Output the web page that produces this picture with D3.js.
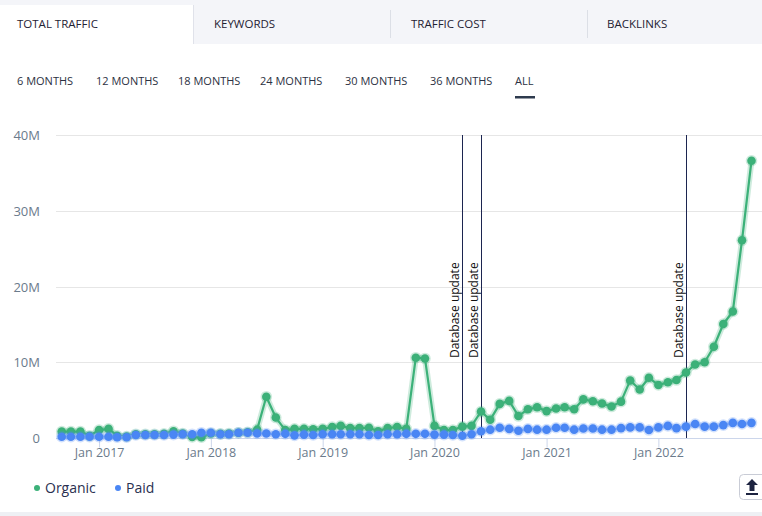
<!DOCTYPE html>
<html>
<head>
<meta charset="utf-8">
<script src="https://cdn.jsdelivr.net/npm/d3@7"></script>
<style>
  body { margin: 0; background: #fff; font-family: "Open Sans", sans-serif; }
  svg { display: block; }
</style>
</head>
<body>
<svg id="chart" width="762" height="516"></svg>
<script>
// monthly data, Sep 2016 .. Nov 2022 (millions)
const startMonth = new Date(Date.UTC(2016, 8, 1));
const organic = [0.85, 0.85, 0.85, 0.3, 1.05, 1.2, 0.3, 0.2, 0.5, 0.5, 0.5, 0.55,
  0.9, 0.6, 0.15, 0.1, 0.6, 0.55, 0.6, 0.7, 0.75, 1.1, 5.45, 2.7,
  1.05, 1.2, 1.2, 1.15, 1.2, 1.45, 1.6, 1.3, 1.3, 1.35, 0.9, 1.3,
  1.45, 1.2, 10.6, 10.5, 1.6, 1.05, 1.05, 1.5, 1.6, 3.5, 2.4, 4.5,
  4.9, 2.9, 3.8, 4.05, 3.55, 3.9, 4.05, 3.8, 5.1, 4.85, 4.55, 4.15,
  4.8, 7.6, 6.4, 7.95, 7.0, 7.35, 7.65, 8.65, 9.7, 10.0, 12.05, 15.05,
  16.7, 26.1, 36.6];
const paid = [0.17, 0.17, 0.17, 0.17, 0.17, 0.17, 0.1, 0.1, 0.4, 0.4, 0.4, 0.4,
  0.45, 0.5, 0.5, 0.7, 0.7, 0.5, 0.5, 0.7, 0.7, 0.6, 0.6, 0.5,
  0.55, 0.35, 0.45, 0.4, 0.5, 0.5, 0.5, 0.5, 0.5, 0.4, 0.4, 0.5,
  0.5, 0.55, 0.55, 0.55, 0.45, 0.45, 0.4, 0.3, 0.5, 0.9, 1.1, 1.35,
  1.2, 0.95, 1.2, 1.1, 1.1, 1.35, 1.35, 1.1, 1.25, 1.25, 1.1, 1.1,
  1.3, 1.4, 1.4, 1.05, 1.4, 1.6, 1.3, 1.5, 1.85, 1.5, 1.5, 1.7,
  2.0, 1.85, 2.0];
const dbUpdates = ['2020-04-01', '2020-06-01', '2022-04-01'];
const yTicks = [0, 10, 20, 30, 40];
const tabs = ['TOTAL TRAFFIC', 'KEYWORDS', 'TRAFFIC COST', 'BACKLINKS'];
const periods = ['6 MONTHS', '12 MONTHS', '18 MONTHS', '24 MONTHS', '30 MONTHS', '36 MONTHS', 'ALL'];
const series = [
  { name: 'Organic', values: organic, color: '#3cb179', line: '#3cb179' },
  { name: 'Paid', values: paid, color: '#4a86f4', line: '#a9c3f8' }
];

const months = organic.map((_, i) => d3.utcMonth.offset(startMonth, i));

const svg = d3.select('#chart');

// --- tabs ---
svg.append('rect').attr('x', 0).attr('y', 0).attr('width', 762).attr('height', 44).attr('fill', '#f4f5f9');
svg.append('rect').attr('x', 0).attr('y', 5).attr('width', 193).attr('height', 40).attr('fill', '#fff');
svg.append('line').attr('x1', 193.5).attr('x2', 193.5).attr('y1', 5).attr('y2', 44).attr('stroke', '#e0e2ea');
[390.5, 587.5].forEach(x => {
  svg.append('line').attr('x1', x).attr('x2', x).attr('y1', 10).attr('y2', 38).attr('stroke', '#dcdfe6');
});
const tabX = [17, 214, 411, 607];
svg.selectAll('.tab').data(tabs).join('text')
  .attr('class', 'tab')
  .attr('x', (d, i) => tabX[i])
  .attr('y', 28)
  .attr('font-size', 11.5)
  .attr('fill', '#1f2233')
  .text(d => d);

// --- period selector ---
const periodX = [17, 96, 178, 260, 345, 430, 515];
svg.selectAll('.period').data(periods).join('text')
  .attr('class', 'period')
  .attr('x', (d, i) => periodX[i])
  .attr('y', 85)
  .attr('font-size', 11)
  .attr('fill', '#2c3142')
  .text(d => d);
svg.append('rect').attr('x', 515).attr('y', 96).attr('width', 20).attr('height', 2.5).attr('fill', '#2e3b4e');

// --- scales ---
const x = d3.scaleUtc()
  .domain([startMonth, months[months.length - 1]])
  .range([61.7, 751.5]);
const y = d3.scaleLinear().domain([0, 40]).range([438, 135]);

// grid
svg.append('g').selectAll('line').data(yTicks.filter(d => d > 0)).join('line')
  .attr('x1', 56).attr('x2', 762)
  .attr('y1', d => Math.round(y(d)) + 0.5).attr('y2', d => Math.round(y(d)) + 0.5)
  .attr('stroke', '#e6e6e6');

// y labels
svg.append('g').selectAll('text').data(yTicks).join('text')
  .attr('x', 40)
  .attr('y', d => y(d) + 5)
  .attr('text-anchor', 'end')
  .attr('font-size', 13)
  .attr('fill', '#6b7b8c')
  .text(d => d === 0 ? '0' : d + 'M');

// x axis
const xAxis = svg.append('g')
  .attr('transform', 'translate(0,' + (Math.round(y(0)) + 0.5) + ')')
  .call(d3.axisBottom(x).ticks(d3.utcYear.every(1)).tickFormat(d3.utcFormat('Jan %Y')).tickSize(9).tickSizeOuter(0));
xAxis.select('.domain').attr('stroke', '#ccd6eb').attr('d', 'M56,0H762');
xAxis.selectAll('.tick line').attr('stroke', '#ccd6eb');
xAxis.selectAll('.tick text')
  .attr('font-family', '"Open Sans", sans-serif')
  .attr('font-size', 12.5)
  .attr('fill', '#6b7b8c')
  .attr('dy', '0.85em')
  .attr('y', 8);

// database update lines
const dbG = svg.append('g');
dbUpdates.forEach(s => {
  const px = Math.round(x(new Date(s + 'T00:00:00Z'))) + 0.5;
  dbG.append('line').attr('x1', px).attr('x2', px).attr('y1', 135).attr('y2', 438)
    .attr('stroke', '#1c2550').attr('stroke-width', 1);
  dbG.append('text')
    .attr('transform', 'translate(' + (px - 3.5) + ',358) rotate(-90)')
    .attr('font-size', 12)
    .attr('fill', '#111')
    .text('Database update');
});

// series
const line = d3.line().x((d, i) => x(months[i])).y(d => y(d));
series.forEach(s => {
  const g = svg.append('g');
  g.append('path').datum(s.values).attr('d', line)
    .attr('fill', 'none').attr('stroke', s.line).attr('stroke-opacity', 0.25).attr('stroke-width', 6)
    .attr('stroke-linejoin', 'round');
  g.append('path').datum(s.values).attr('d', line)
    .attr('fill', 'none').attr('stroke', s.line).attr('stroke-width', 2.2)
    .attr('stroke-linejoin', 'round');
  g.selectAll('circle').data(s.values).join('circle')
    .attr('cx', (d, i) => x(months[i]))
    .attr('cy', d => y(d))
    .attr('r', 4.3)
    .attr('fill', s.color)
    .attr('stroke', s.color).attr('stroke-opacity', 0.25).attr('stroke-width', 3);
});

// legend
const legX = [37, 118];
const leg = svg.append('g').selectAll('g').data(series).join('g')
  .attr('transform', (d, i) => 'translate(' + legX[i] + ',488)');
leg.append('circle').attr('r', 3).attr('fill', d => d.color);
leg.append('text').attr('x', 8).attr('y', 5).attr('font-size', 14).attr('fill', '#2a3050').text(d => d.name);

// export button
svg.append('rect').attr('x', 739.5).attr('y', 474.5).attr('width', 30).attr('height', 25).attr('rx', 4)
  .attr('fill', '#fff').attr('stroke', '#c9ccd6');
svg.append('path').attr('d', 'M752,479 L758,485 L754.5,485 L754.5,491 L749.5,491 L749.5,485 L746,485 Z M746,493 H758 V495 H746 Z')
  .attr('fill', '#1d2340');

// bottom separator
svg.append('rect').attr('x', 0).attr('y', 512).attr('width', 762).attr('height', 4).attr('fill', '#eef0f4');
</script>
</body>
</html>
